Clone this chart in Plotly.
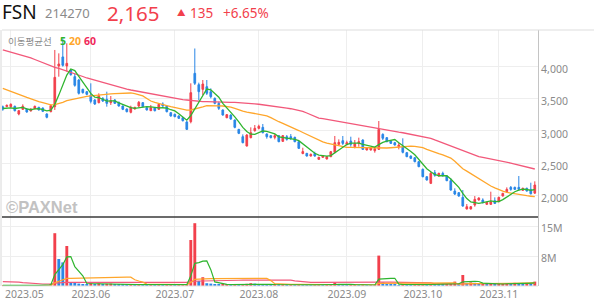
import pandas as pd
import plotly.graph_objects as go

# ---------------- data ----------------
KRX_HOLIDAYS = ['2023-05-01', '2023-05-05', '2023-05-29', '2023-06-06', '2023-08-15',
                '2023-09-28', '2023-09-29', '2023-10-02', '2023-10-03', '2023-10-09']
dates = pd.bdate_range('2023-04-27', '2023-11-14', freq='C',
                       holidays=KRX_HOLIDAYS).strftime('%Y-%m-%d').tolist()

open_ = [3370, 3375, 3373, 3378, 3260, 3332, 3337, 3306, 3342, 3363, 3352, 3260, 3296, 3373, 4000, 4140, 4000, 3938, 3836, 3784,
         3640, 3604, 3553, 3476, 3435, 3500, 3486, 3435, 3476, 3440, 3383, 3337, 3286, 3337, 3383, 3435, 3358, 3311, 3358, 3332,
         3414, 3383, 3280, 3255, 3229, 3203, 3137, 3142, 3887, 3712, 3640, 3681, 3604, 3501, 3424, 3322, 3203, 3244, 3167, 3023,
         2910, 2766, 2895, 3003, 3039, 3054, 2951, 2926, 2900, 2926, 2838, 2910, 2910, 2900, 2833, 2650, 2653, 2612, 2653, 2561,
         2592, 2566, 2602, 2669, 2792, 2849, 2792, 2843, 2756, 2807, 2859, 2705, 2705, 2694, 2715, 2946, 2895, 2843, 2818, 2756,
         2756, 2664, 2612, 2586, 2525, 2407, 2293, 2191, 2355, 2304, 2345, 2304, 2232, 2072, 2047, 1975, 1795, 1795, 1857, 1934,
         1934, 1867, 1867, 1923, 1908, 1995, 2062, 2129, 2129, 2129, 2083, 2114, 2098, 2040]
high = [3390, 3405, 3424, 3390, 3320, 3409, 3345, 3345, 3390, 3370, 3360, 3270, 3409, 4247, 4195, 4420, 4350, 3949, 3887, 3800,
        3650, 3615, 3733, 3490, 3579, 3520, 3604, 3537, 3490, 3450, 3390, 3345, 3388, 3370, 3460, 3445, 3365, 3399, 3365, 3420,
        3440, 3390, 3290, 3265, 3240, 3215, 3152, 3733, 4270, 3743, 3784, 3784, 3656, 3515, 3450, 3330, 3260, 3255, 3175, 3030,
        2946, 2950, 3054, 3090, 3095, 3106, 2962, 2935, 2951, 2935, 2935, 2936, 2951, 2910, 2840, 2740, 2660, 2650, 2679, 2600,
        2620, 2610, 2690, 2921, 2869, 2921, 2849, 2910, 2859, 2895, 2870, 2745, 2750, 2756, 3152, 2962, 2905, 2850, 2830, 2818,
        2885, 2675, 2620, 2595, 2535, 2420, 2300, 2371, 2396, 2355, 2371, 2315, 2268, 2114, 2055, 2088, 1872, 1840, 1995, 1975,
        1960, 1905, 2062, 1975, 1985, 2045, 2129, 2150, 2140, 2304, 2125, 2125, 2201, 2222]
low = [3310, 3365, 3357, 3300, 3240, 3322, 3280, 3300, 3335, 3315, 3290, 3193, 3286, 3322, 3835, 3990, 3913, 3851, 3681, 3560,
       3575, 3550, 3424, 3400, 3424, 3445, 3373, 3399, 3415, 3375, 3320, 3285, 3270, 3330, 3363, 3365, 3315, 3306, 3300, 3325,
       3373, 3285, 3220, 3210, 3185, 3145, 3013, 3116, 3707, 3470, 3553, 3553, 3501, 3410, 3322, 3235, 3195, 3170, 3040, 2950,
       2808, 2760, 2885, 2987, 3023, 2962, 2880, 2885, 2869, 2825, 2830, 2849, 2859, 2825, 2720, 2640, 2605, 2605, 2602, 2555,
       2585, 2560, 2595, 2653, 2782, 2782, 2777, 2756, 2730, 2756, 2705, 2700, 2698, 2664, 2705, 2859, 2825, 2800, 2775, 2715,
       2653, 2595, 2565, 2515, 2440, 2285, 2235, 2180, 2293, 2295, 2293, 2225, 2078, 2011, 1985, 1831, 1790, 1790, 1831, 1925,
       1882, 1860, 1857, 1872, 1900, 1990, 2047, 2077, 2090, 2077, 2075, 2065, 2020, 2030]
close = [3335, 3395, 3409, 3311, 3311, 3378, 3291, 3337, 3378, 3322, 3301, 3209, 3389, 3825, 4031, 4010, 4041, 3866, 3702, 3579,
         3589, 3563, 3455, 3414, 3543, 3460, 3424, 3466, 3424, 3383, 3332, 3296, 3363, 3363, 3440, 3373, 3322, 3358, 3311, 3409,
         3383, 3296, 3229, 3219, 3193, 3157, 3023, 3589, 3733, 3604, 3722, 3579, 3527, 3424, 3347, 3244, 3250, 3183, 3054, 2962,
         2818, 2936, 2972, 3039, 3070, 2972, 2910, 2895, 2926, 2833, 2926, 2869, 2885, 2833, 2730, 2680, 2612, 2638, 2612, 2592,
         2612, 2602, 2679, 2818, 2823, 2807, 2818, 2792, 2807, 2833, 2715, 2736, 2741, 2725, 3023, 2885, 2833, 2807, 2782, 2782,
         2669, 2602, 2576, 2525, 2448, 2293, 2242, 2345, 2314, 2345, 2309, 2232, 2088, 2026, 1995, 1841, 1831, 1831, 1944, 1965,
         1893, 1898, 1908, 1882, 1975, 2036, 2098, 2098, 2098, 2098, 2114, 2072, 2030, 2165]

# moving averages (20 / 60 day), first MA5 values
ma20 = [3656, 3635, 3613, 3590, 3565, 3540, 3515, 3490, 3470, 3452, 3435, 3415, 3400,
        3405, 3420, 3440, 3465, 3480, 3495, 3505, 3515, 3530, 3540, 3548, 3555, 3560, 3566, 3570, 3575, 3580, 3583, 3584, 3584,
        3575, 3560, 3540, 3500, 3460, 3440, 3420, 3400, 3390, 3375, 3360, 3345, 3332, 3321,
        3322, 3335, 3350, 3370, 3388, 3390, 3388, 3385, 3383, 3378, 3365, 3345, 3321, 3305, 3290, 3278, 3266, 3254, 3242, 3232,
        3205, 3170, 3141, 3115, 3090, 3065, 3039, 3005, 2975, 2945, 2912, 2885, 2860, 2830, 2810, 2795, 2780, 2768, 2755, 2746,
        2744, 2742, 2740, 2739, 2737, 2735, 2733, 2731, 2733, 2736, 2740, 2745, 2750, 2760, 2765, 2765, 2762, 2755, 2740, 2715,
        2690, 2670, 2650, 2630, 2610, 2580, 2530, 2470, 2415, 2380, 2340, 2300, 2260, 2216, 2180, 2150, 2120, 2090, 2070, 2052,
        2040, 2028, 2018, 2008, 2000, 1992, 1985]
ma60 = [4247, 4230, 4213, 4196, 4180, 4163, 4146, 4125, 4100, 4075, 4050, 4025, 3995, 3980, 3965, 3945, 3928, 3905, 3882, 3860,
        3838, 3815, 3797, 3780, 3762, 3745, 3728, 3710, 3693, 3677, 3661, 3645, 3630, 3618, 3606, 3593, 3580, 3568, 3556, 3545,
        3535, 3524, 3513, 3502, 3492, 3483, 3476, 3468, 3460, 3452, 3450, 3450, 3450, 3448, 3446, 3444, 3442, 3440, 3438, 3436,
        3433, 3430, 3424, 3417, 3410, 3403, 3395, 3387, 3380, 3372, 3362, 3352, 3341, 3331, 3321, 3300, 3275, 3250, 3223, 3198,
        3187, 3176, 3165, 3154, 3143, 3132, 3121, 3109, 3097, 3085, 3073, 3061, 3049, 3036, 3024, 3015, 3006, 2997, 2988, 2980,
        2971, 2960, 2948, 2937, 2925, 2913, 2900, 2885, 2860, 2836, 2812, 2788, 2762, 2737, 2713, 2689, 2665, 2640, 2615, 2603,
        2591, 2580, 2568, 2557, 2546, 2535, 2519, 2503, 2487, 2470, 2455, 2440, 2425, 2412]
ma5_head = [3345, 3350, 3355, 3345]

volume_m = [0.15, 0.2, 0.15, 0.2, 0.25, 0.2, 0.15, 0.15, 0.2, 0.15, 0.2, 0.25, 0.5,
            13.2, 6.75, 5.9, 10.0,
            0.85, 0.8, 0.6, 0.45, 0.4, 0.7, 0.5, 0.65, 0.4, 0.55, 0.6, 0.45, 0.4, 0.35, 0.3,
            0.45, 0.3, 0.4, 0.35, 0.3, 0.35, 0.3, 0.4, 0.3, 0.3, 0.3, 0.25, 0.3, 0.3, 0.5,
            11.5, 15.7, 1.25, 2.2,
            0.7, 0.6, 0.4, 0.3, 0.35, 0.4, 0.35, 0.45, 0.4, 0.5, 0.55, 0.7, 0.6, 0.45, 0.4, 0.35, 0.3, 0.35, 0.3, 0.35,
            0.3, 0.3, 0.25, 0.35, 0.3, 0.25, 0.2, 0.25, 0.3, 0.2, 0.25, 0.35, 0.8, 0.4, 0.35, 0.3, 0.3, 0.3, 0.25, 0.35,
            0.2, 0.2, 0.25,
            7.6,
            0.9, 0.5, 0.4, 0.3, 0.25, 0.45, 0.35, 0.3, 0.3, 0.35, 0.4, 0.3, 0.5, 0.4, 0.35, 0.3, 0.3, 0.5, 1.1, 0.6,
            2.75, 0.7, 0.9, 0.8, 0.5, 0.7, 0.4, 0.6, 0.4, 0.5, 0.6, 0.7, 0.5, 0.8, 0.7, 0.5, 0.8, 0.7, 1.1]
vol_ma20_head_m = [0.12, 0.12, 0.12, 0.12, 0.12, 0.12, 0.12, 0.12, 0.12, 0.12, 0.12, 0.12, 0.12,
                   0.8, 1.15, 1.45, 1.9, 1.92, 1.95]
vol_ma60_head_m = [1.1, 1.1, 1.1, 1.05, 0.95, 0.85, 0.75, 0.65, 0.6, 0.55, 0.5, 0.5, 0.5, 0.7, 0.8, 0.85, 0.9,
                   0.9, 0.9, 0.9, 0.9, 0.9, 0.9, 0.9, 0.9, 0.9, 0.9, 0.9, 0.9, 0.9, 0.9, 0.9,
                   0.9, 0.9, 0.9, 0.9, 0.9, 0.9, 0.9, 0.9, 0.9, 0.9, 0.9, 0.9, 0.9, 0.9, 0.9,
                   1.1, 1.25, 1.25, 1.25, 1.25, 1.25, 1.25, 1.25, 1.25, 1.25, 1.25, 1.25]

month_ticks = ['2023-05-02', '2023-06-01', '2023-07-03', '2023-08-01', '2023-09-01', '2023-10-04', '2023-11-01']
month_labels = ['2023.05', '2023.06', '2023.07', '2023.08', '2023.09', '2023.10', '2023.11']
price_ticks = [2000, 2500, 3000, 3500, 4000]
vol_ticks = [7.5e6, 15e6]
vol_tick_labels = ['8M', '15M']

# ---------------- derived ----------------
RED = '#F2404C'
BLUE = '#2A87E6'
GREEN = '#2FB52F'
ORANGE = '#FFA62B'
PINK = '#F2587A'
GRAY_TXT = '#8A8A8A'
GRID = '#EEEEEE'

volume = [v * 1e6 for v in volume_m]
ma5 = pd.Series(close, dtype=float).rolling(5).mean().tolist()
ma5[:len(ma5_head)] = ma5_head

vs = pd.Series(volume)
vma5 = vs.rolling(5, min_periods=1).mean().tolist()
vma20 = vs.rolling(20).mean().tolist()
vma20[:len(vol_ma20_head_m)] = [v * 1e6 for v in vol_ma20_head_m]
vma60 = vs.rolling(60).mean().tolist()
vma60[:len(vol_ma60_head_m)] = [v * 1e6 for v in vol_ma60_head_m]
vol_colors = [RED if i == 0 or volume[i] >= volume[i - 1] else BLUE for i in range(len(volume))]

# ---------------- figure ----------------
W, H = 594, 304
ML, MR, MT, MB = 2, 56, 30, 18
PW, PH = W - ML - MR, H - MT - MB
split = 69 / PH  # volume panel height


def px(x):
    return (x - ML) / PW


def py(y):
    return (H - MB - y) / PH


fig = go.Figure()
fig.add_trace(go.Candlestick(
    x=dates, open=open_, high=high, low=low, close=close,
    increasing=dict(line=dict(color=RED, width=1), fillcolor=RED),
    decreasing=dict(line=dict(color=BLUE, width=1), fillcolor=BLUE),
    whiskerwidth=0, xaxis='x', yaxis='y', hoverinfo='skip'))
for series, col in [(ma60, PINK), (ma20, ORANGE), (ma5, GREEN)]:
    fig.add_trace(go.Scatter(x=dates, y=series, mode='lines', line=dict(color=col, width=1.3),
                             xaxis='x', yaxis='y', hoverinfo='skip'))

fig.add_trace(go.Bar(x=dates, y=volume, marker=dict(color=vol_colors, line=dict(width=0)),
                     xaxis='x2', yaxis='y2', hoverinfo='skip'))
for series, col in [(vma60, PINK), (vma20, ORANGE), (vma5, GREEN)]:
    fig.add_trace(go.Scatter(x=dates, y=series, mode='lines', line=dict(color=col, width=1.2),
                             xaxis='x2', yaxis='y2', hoverinfo='skip'))

xr = [-0.2, len(dates) - 0.2]
common_x = dict(type='category', range=xr, tickmode='array', tickvals=month_ticks,
                showgrid=True, gridcolor=GRID, gridwidth=1, zeroline=False,
                rangeslider=dict(visible=False), fixedrange=True, ticks='')
fig.update_layout(
    width=W, height=H, margin=dict(l=ML, r=MR, t=MT, b=MB),
    paper_bgcolor='white', plot_bgcolor='white', showlegend=False,
    bargap=0.28, boxgap=0.4,
    font=dict(family='Noto Sans, Noto Sans CJK KR, sans-serif', color=GRAY_TXT, size=10.5),
    xaxis=dict(domain=[0, 1], anchor='y', showticklabels=False, ticktext=month_labels, **common_x),
    xaxis2=dict(domain=[0, 1], anchor='y2', matches='x', showticklabels=True,
                ticktext=[''] + month_labels[1:], tickfont=dict(size=10.5, color=GRAY_TXT), **common_x),
    yaxis=dict(domain=[split, 1], anchor='x', side='right', range=[1672, 4555],
               tickmode='array', tickvals=price_ticks, tickformat=',d',
               showgrid=True, gridcolor=GRID, zeroline=False, ticks='',
               showline=True, linecolor='#C4C4C4', linewidth=1, ticklabelshift=3,
               tickfont=dict(size=10.5, color=GRAY_TXT)),
    yaxis2=dict(domain=[0, split], anchor='x2', side='right', range=[0, 17.25e6],
                tickmode='array', tickvals=vol_ticks, ticktext=vol_tick_labels,
                showgrid=True, gridcolor=GRID, zeroline=False, ticks='',
                showline=True, linecolor='#C4C4C4', linewidth=1, ticklabelshift=2,
                tickfont=dict(size=10.5, color=GRAY_TXT)),
)

shapes = [
    dict(type='line', xref='paper', yref='paper', x0=0, x1=px(W), y0=1, y1=1, line=dict(color='#DDDDDD', width=1)),
    dict(type='line', xref='paper', yref='paper', x0=0, x1=1, y0=split, y1=split, line=dict(color='#3A3A3A', width=1.5)),
    dict(type='line', xref='paper', yref='paper', x0=0, x1=1, y0=0, y1=0, line=dict(color='#E2E2E2', width=1)),
    dict(type='line', xref='paper', yref='paper', x0=px(1), x1=px(1), y0=0, y1=1, line=dict(color='#D8D8D8', width=1)),
]
fig.update_layout(shapes=shapes)

ann = []


def add(text, x, y, size, color, xanchor='left', family=None, bold=False):
    t = f'<b>{text}</b>' if bold else text
    d = dict(text=t, xref='paper', yref='paper', x=px(x), y=py(y), xanchor=xanchor, yanchor='middle',
             showarrow=False, font=dict(size=size, color=color))
    if family:
        d['font']['family'] = family
    ann.append(d)


add('FSN', 0, 12, 19, '#111111')
add('214270', 43, 12.5, 13, GRAY_TXT)
add('2,165', 105, 12.5, 20.5, RED)
add('▲', 175, 12.5, 8.5, RED)
add('135', 188, 12.5, 13.5, RED)
add('+6.65%', 221, 12.5, 13.5, RED)
add('이동평균선', 6, 41, 9.5, GRAY_TXT, family='Noto Sans CJK KR')
add('5', 58, 41, 10.5, GREEN, bold=True)
add('20', 67, 41, 10.5, ORANGE, bold=True)
add('60', 82, 41, 10.5, '#F0285A', bold=True)
add('©PAXNet', 4, 206.5, 16.5, '#C2C2C2', family='Liberation Sans', bold=True)
add('2023.05', 3, 294, 10.5, GRAY_TXT)
fig.update_layout(annotations=ann)

fig.write_html('out.html', config={'displayModeBar': False})
